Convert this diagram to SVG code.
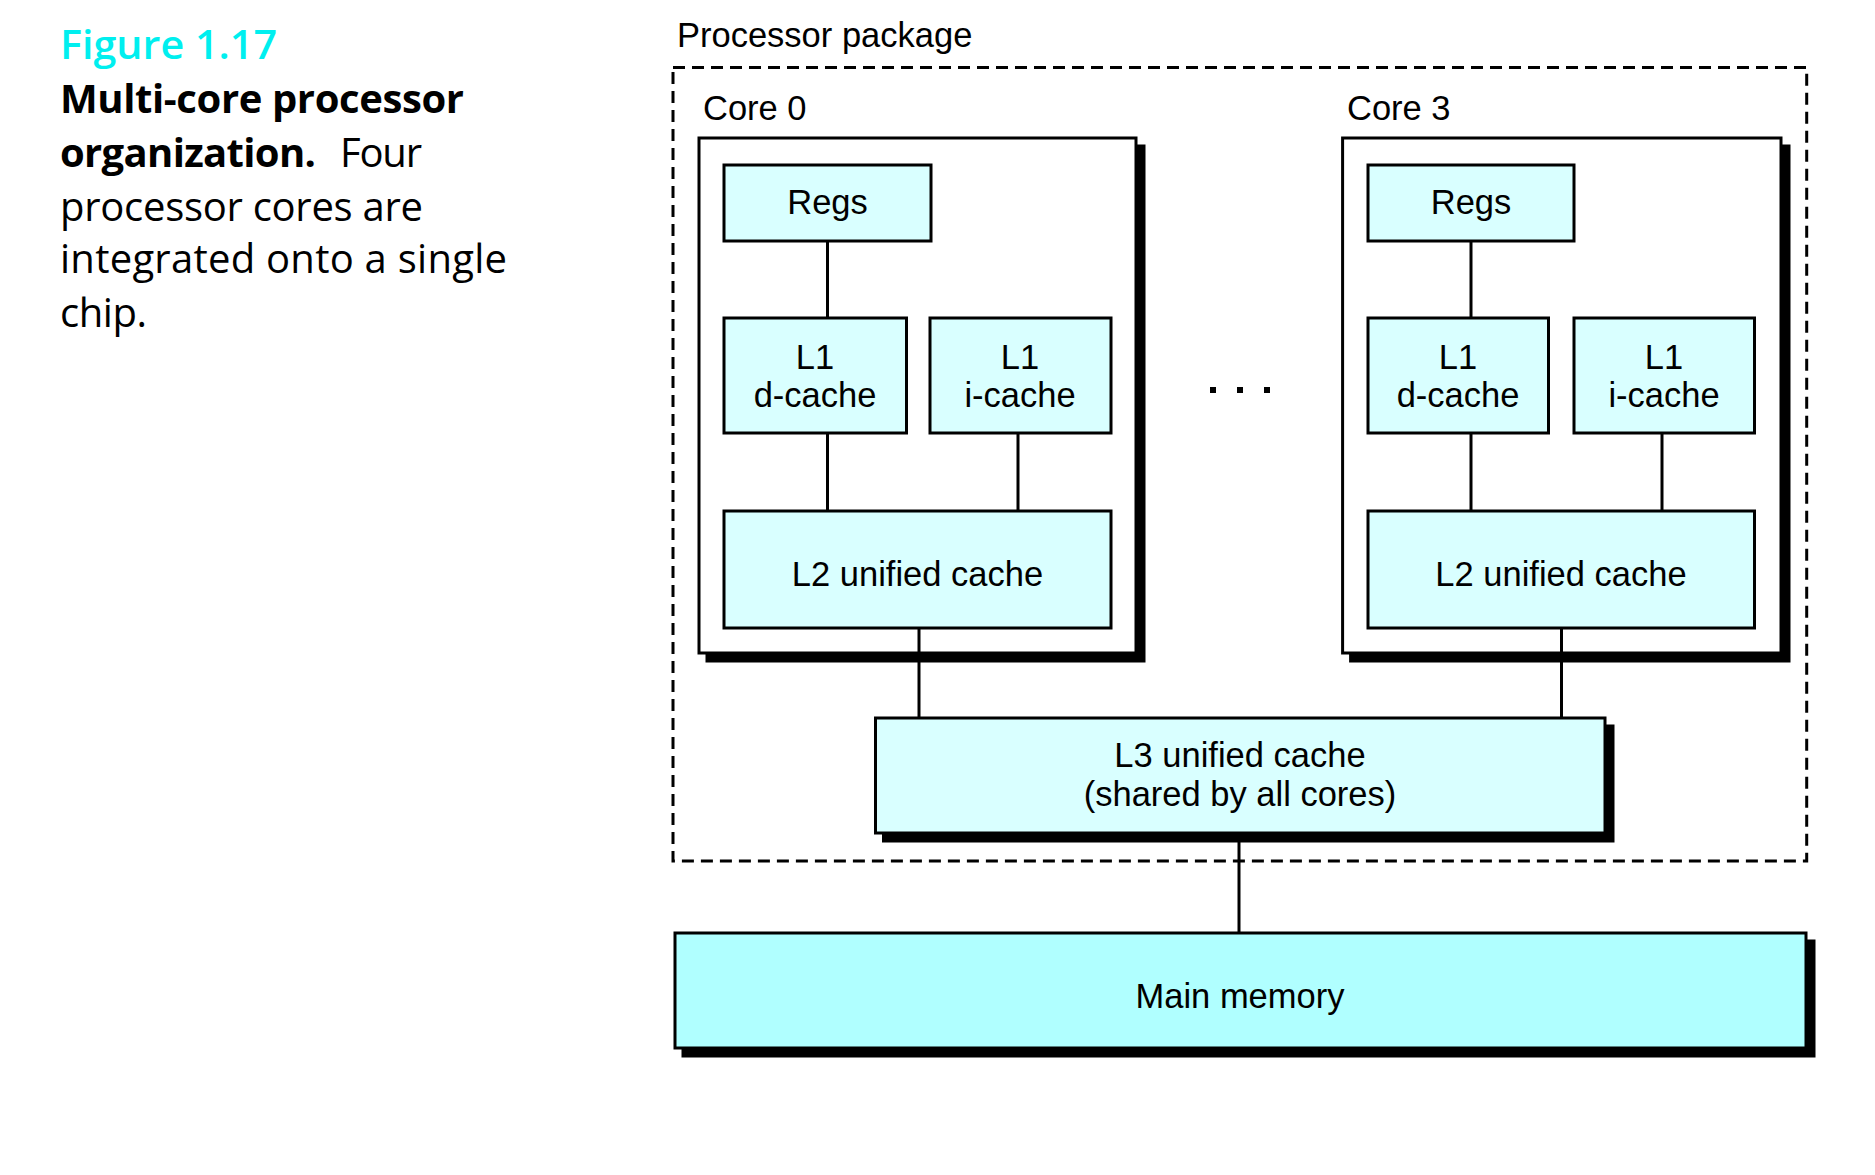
<svg xmlns="http://www.w3.org/2000/svg" width="1875" height="1175" viewBox="0 0 1875 1175">
<style>
.lbl{font-family:"Liberation Sans",Arial,sans-serif;font-size:34.5px;fill:#000}
.c{text-anchor:middle}
.cap{font-family:"Open Sans","Noto Sans",sans-serif;font-size:40px;fill:#000}
.box{fill:#D9FFFF;stroke:#000;stroke-width:3}
.core{fill:#fff;stroke:#000;stroke-width:3}
.shadow{fill:#000;stroke:#000;stroke-width:3}
.wire{stroke:#000;stroke-width:3;fill:none}
</style>
<rect width="1875" height="1175" fill="#fff"/>

<g id="caption">
<text class="cap" x="60" y="59" textLength="217" lengthAdjust="spacingAndGlyphs" style="fill:#00EFEF;font-weight:600">Figure 1.17</text>
<text class="cap" x="60" y="113" textLength="404" style="font-weight:700">Multi-core processor</text>
<text class="cap" x="60" y="166.5" textLength="256" style="font-weight:700">organization.</text>
<text class="cap" x="340" y="166.5" textLength="82">Four</text>
<text class="cap" x="60" y="220.5" textLength="363">processor cores are</text>
<text class="cap" x="60" y="273" textLength="447">integrated onto a single</text>
<text class="cap" x="60" y="327" textLength="87">chip.</text>
</g>

<g id="package">
<rect x="673" y="67.5" width="1133.7" height="793.5" fill="none" stroke="#000" stroke-width="3" stroke-dasharray="12 7"/>
<text class="lbl" x="677" y="47">Processor package</text>
</g>

<g id="core0">
<rect class="shadow" x="707" y="146" width="437" height="515"/>
<rect class="core" x="699" y="138" width="437" height="515"/>
<text class="lbl" x="703" y="120">Core 0</text>
</g>
<g id="core3">
<rect class="shadow" x="1350.6" y="146" width="438.4" height="515"/>
<rect class="core" x="1342.6" y="138" width="438.4" height="515"/>
<text class="lbl" x="1347" y="120">Core 3</text>
</g>

<g id="connectors">
<line class="wire" x1="827.5" y1="241" x2="827.5" y2="318"/>
<line class="wire" x1="827.5" y1="433" x2="827.5" y2="511"/>
<line class="wire" x1="1018" y1="433" x2="1018" y2="511"/>
<line class="wire" x1="919" y1="628" x2="919" y2="718"/>
<line class="wire" x1="1471" y1="241" x2="1471" y2="318"/>
<line class="wire" x1="1471" y1="433" x2="1471" y2="511"/>
<line class="wire" x1="1662" y1="433" x2="1662" y2="511"/>
<line class="wire" x1="1561.5" y1="628" x2="1561.5" y2="718"/>
<line class="wire" x1="1239" y1="833" x2="1239" y2="933"/>
</g>

<g id="regs0"><rect class="box" x="724" y="165" width="207" height="76"/><text class="lbl c" x="827.5" y="214">Regs</text></g>
<g id="l1d0"><rect class="box" x="724" y="318" width="182.5" height="115"/><text class="lbl c" x="815" y="369">L1</text><text class="lbl c" x="815" y="407">d-cache</text></g>
<g id="l1i0"><rect class="box" x="930" y="318" width="181" height="115"/><text class="lbl c" x="1020" y="369">L1</text><text class="lbl c" x="1020" y="407">i-cache</text></g>
<g id="l2_0"><rect class="box" x="724" y="511" width="387" height="117"/><text class="lbl c" x="917.5" y="586">L2 unified cache</text></g>

<g id="regs3"><rect class="box" x="1368" y="165" width="206" height="76"/><text class="lbl c" x="1471" y="214">Regs</text></g>
<g id="l1d3"><rect class="box" x="1368" y="318" width="180.5" height="115"/><text class="lbl c" x="1458" y="369">L1</text><text class="lbl c" x="1458" y="407">d-cache</text></g>
<g id="l1i3"><rect class="box" x="1574" y="318" width="180.5" height="115"/><text class="lbl c" x="1664" y="369">L1</text><text class="lbl c" x="1664" y="407">i-cache</text></g>
<g id="l2_3"><rect class="box" x="1368" y="511" width="386.5" height="117"/><text class="lbl c" x="1561" y="586">L2 unified cache</text></g>

<g id="dots">
<rect x="1210" y="387" width="6" height="6" fill="#000"/>
<rect x="1237" y="387" width="6" height="6" fill="#000"/>
<rect x="1264" y="387" width="6" height="6" fill="#000"/>
</g>

<g id="l3">
<rect class="shadow" x="883.5" y="726" width="729.5" height="115"/>
<rect class="box" x="875.5" y="718" width="729.5" height="115"/>
<text class="lbl c" x="1240" y="767">L3 unified cache</text>
<text class="lbl c" x="1240" y="806">(shared by all cores)</text>
</g>

<g id="mainmem">
<rect class="shadow" x="683" y="941" width="1131" height="115"/>
<rect class="box" x="675" y="933" width="1131" height="115" style="fill:#B0FFFF"/>
<text class="lbl c" x="1240" y="1008">Main memory</text>
</g>
</svg>
